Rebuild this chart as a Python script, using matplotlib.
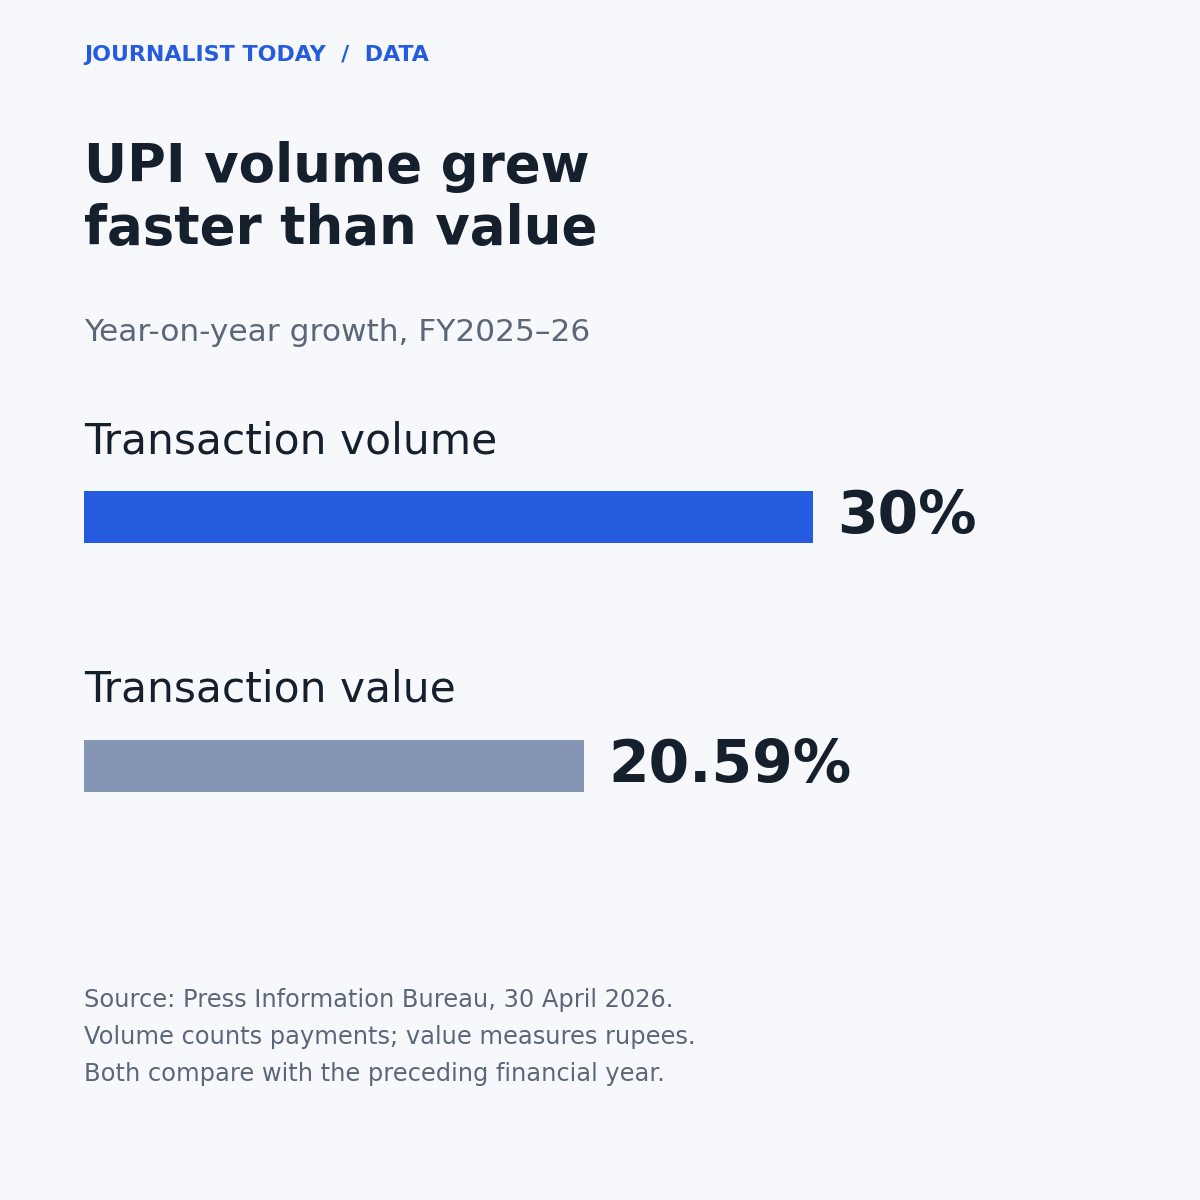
import matplotlib.pyplot as plt

# data
categories = ["Transaction volume", "Transaction value"]
growth = [30, 20.59]
value_labels = ["30%", "20.59%"]
bar_colors = ["#245BDF", "#8595B5"]

kicker = "JOURNALIST TODAY  /  DATA"
title_lines = ["UPI volume grew", "faster than value"]
subtitle = "Year-on-year growth, FY2025\u201326"
notes = [
    "Source: Press Information Bureau, 30 April 2026.",
    "Volume counts payments; value measures rupees.",
    "Both compare with the preceding financial year.",
]

BG = "#F7F8FC"
DARK = "#16202C"
GREY = "#5B6678"
BLUE = "#245BDF"

W = H = 1200


def fx(px):
    return px / W


def fy(py):
    return 1 - py / H


plt.rcParams['font.family'] = ['DejaVu Sans']
fig = plt.figure(figsize=(12, 12), dpi=100, facecolor=BG)

# header texts
fig.text(fx(84), fy(61), kicker, color=BLUE, fontsize=15.9,
         fontweight='bold', va='baseline')
fig.text(fx(84), fy(182), title_lines[0], color=DARK, fontsize=38.2,
         fontweight='bold', va='baseline')
fig.text(fx(84), fy(244), title_lines[1], color=DARK, fontsize=38.2,
         fontweight='bold', va='baseline')
fig.text(fx(84), fy(341), subtitle, color=GREY, fontsize=22.5, va='baseline')

# bars: 1% = 24.3 px, start at x=84
ax_left, ax_top, ax_bottom = 84, 392, 892
xmax = 40
unit = 248.5
ax = fig.add_axes([fx(ax_left), fy(ax_bottom), fx(xmax * 24.3),
                   (ax_bottom - ax_top) / H])
ax.set_facecolor('none')
ypos = list(range(len(categories)))
ax.barh(ypos, growth, height=52 / unit, color=bar_colors)
ax.set_xlim(0, xmax)
ax.set_ylim((ax_bottom - ax_top - 125) / unit, -125 / unit)
ax.axis('off')

for y, v, lab, cat in zip(ypos, growth, value_labels, categories):
    ax.annotate(lab, (v, y), xytext=(24 * 0.72, 0), textcoords='offset points',
                ha='left', va='center', fontsize=42, fontweight='bold',
                color=DARK)
    ax.annotate(cat, (0, y), xytext=(0, 64 * 0.72), textcoords='offset points',
                ha='left', va='baseline', fontsize=30.5, color=DARK)

# footnotes
for i, line in enumerate(notes):
    fig.text(fx(84), fy(1007 + 37 * i), line, color=GREY, fontsize=17.4,
             va='baseline')

fig.savefig("out.png", dpi=100, facecolor=BG)
